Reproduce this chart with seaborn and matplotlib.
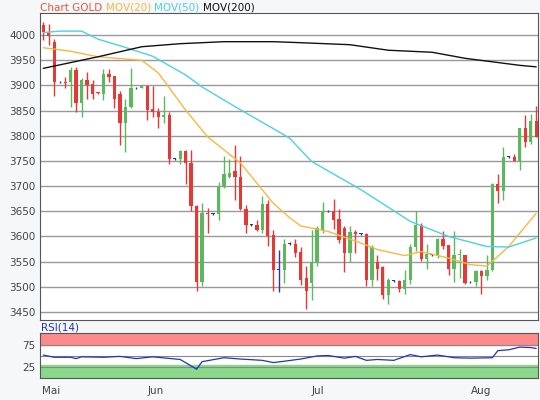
import numpy as np
import pandas as pd
import matplotlib
matplotlib.use("Agg")
import matplotlib.pyplot as plt
import seaborn as sns

# --- Dados ---
# open, close, high, low por pregão
abre = [4020, 4005, 3987, 3906, 3907, 3906, 3931, 3866, 3911, 3903, 3886, 3883, 3923, 3919, 3884,
        3826, 3857, 3894, 3894, 3899, 3854, 3848, 3838, 3841, 3754, 3754, 3769, 3746, 3660, 3509,
        3647, 3645, 3645, 3699, 3718, 3730, 3719, 3654, 3623, 3623, 3612, 3665, 3603, 3534, 3534,
        3586, 3586, 3570, 3517, 3508, 3549, 3613, 3650, 3650, 3635, 3617, 3567, 3608, 3605, 3605,
        3514, 3549, 3539, 3483, 3512, 3512, 3496, 3514, 3580, 3623, 3555, 3564, 3564, 3595, 3584,
        3535, 3564, 3564, 3509, 3509, 3531, 3522, 3533, 3705, 3690, 3758, 3758, 3749, 3815, 3787,
        3830]
fecha = [4007, 3998, 3906, 3906, 3905, 3931, 3866, 3911, 3901, 3883, 3885, 3923, 3917, 3874, 3826,
         3857, 3894, 3894, 3899, 3851, 3848, 3838, 3841, 3754, 3754, 3769, 3746, 3660, 3509, 3646,
         3645, 3645, 3699, 3724, 3726, 3718, 3654, 3623, 3623, 3612, 3665, 3601, 3534, 3534, 3586,
         3586, 3567, 3514, 3491, 3549, 3617, 3650, 3650, 3633, 3593, 3567, 3608, 3604, 3605, 3514,
         3580, 3535, 3483, 3513, 3512, 3496, 3514, 3580, 3623, 3555, 3566, 3564, 3595, 3582, 3535,
         3564, 3565, 3508, 3509, 3531, 3522, 3533, 3705, 3690, 3758, 3758, 3749, 3815, 3787, 3830,
         3798]
maxima = [4027, 4023, 3993, 3908, 3917, 3937, 3937, 3914, 3927, 3911, 3888, 3933, 3933, 3919, 3890,
          3874, 3934, 3896, 3901, 3901, 3898, 3855, 3879, 3848, 3756, 3772, 3772, 3771, 3663, 3667,
          3656, 3647, 3708, 3760, 3753, 3781, 3760, 3663, 3625, 3633, 3680, 3673, 3613, 3574, 3594,
          3588, 3594, 3579, 3541, 3612, 3620, 3668, 3652, 3674, 3655, 3621, 3620, 3612, 3607, 3607,
          3583, 3564, 3542, 3518, 3514, 3514, 3533, 3586, 3650, 3627, 3586, 3566, 3597, 3610, 3584,
          3610, 3575, 3564, 3511, 3533, 3533, 3564, 3707, 3724, 3777, 3760, 3764, 3815, 3841, 3843,
          3859]
minima = [3990, 3980, 3879, 3904, 3894, 3858, 3848, 3838, 3873, 3873, 3884, 3872, 3907, 3855, 3781,
          3767, 3855, 3892, 3894, 3831, 3837, 3815, 3826, 3744, 3752, 3744, 3704, 3650, 3491, 3501,
          3607, 3643, 3633, 3696, 3716, 3672, 3653, 3607, 3621, 3610, 3607, 3582, 3491, 3489, 3508,
          3584, 3560, 3504, 3456, 3473, 3542, 3607, 3648, 3615, 3587, 3529, 3549, 3567, 3603, 3501,
          3501, 3514, 3475, 3465, 3510, 3490, 3485, 3506, 3572, 3552, 3535, 3562, 3557, 3575, 3524,
          3509, 3518, 3506, 3507, 3502, 3486, 3514, 3531, 3666, 3672, 3756, 3749, 3732, 3777, 3784,
          3797]

# médias móveis (índice do pregão, valor)
mm20_idx = [0, 5, 10, 18, 21, 26, 30, 36, 42, 45, 47, 52, 58, 61, 66, 69, 74, 78, 81, 85, 88, 90]
mm20_val = [3975, 3968, 3957, 3950, 3925, 3851, 3798, 3746, 3666, 3637, 3621, 3610, 3587, 3574,
            3562, 3570, 3557, 3544, 3541, 3580, 3620, 3646]
mm50_idx = [0, 3, 7, 10, 14, 20, 26, 29, 35, 43, 45, 49, 58, 67, 74, 81, 85, 90]
mm50_val = [4005, 4008, 4008, 3992, 3979, 3958, 3921, 3897, 3858, 3808, 3795, 3749, 3693, 3630,
            3600, 3580, 3579, 3597]
mm200_idx = [0, 10, 18, 25, 33, 42, 47, 56, 63, 71, 77, 87, 90]
mm200_val = [3934, 3957, 3977, 3983, 3987, 3987, 3985, 3981, 3970, 3966, 3954, 3940, 3937]

rsi_idx = [0, 2, 5, 6, 7, 11, 14, 17, 20, 25, 28, 29, 33, 36, 40, 42, 44, 47, 50, 52, 55, 57,
           59, 61, 64, 67, 69, 72, 75, 78, 82, 83, 85, 86, 87, 89, 90]
rsi_val = [52, 47, 47, 44, 48, 47, 49, 44, 48, 42, 20, 37, 46, 43, 40, 35, 38, 43, 50, 51, 45, 49,
           40, 42, 40, 53, 48, 52, 46, 45, 46, 62, 64, 67, 70, 69, 67]

meses = ["Mai", "Jun", "Jul", "Aug"]
meses_pos = [-0.3, 19.1, 49, 78.1]

# --- Figura ---
sns.set_style("white")
plt.rcParams['font.family'] = ['DejaVu Sans']
fig = plt.figure(figsize=(5.4, 4.0), dpi=100, facecolor='#f6f7f9')
ax = fig.add_axes([0.074, 0.2, 0.922, 0.7675])
ax2 = fig.add_axes([0.074, 0.055, 0.922, 0.1125])

df = pd.DataFrame({"o": abre, "c": fecha, "h": maxima, "l": minima})
df["i"] = np.arange(len(df))
cores = np.where(df["c"] > df["o"], "#5cb85c", np.where(df["c"] < df["o"], "#e53935", "#333399"))

for y in range(3450, 4050, 50):
    ax.axhline(y, color='#999999', lw=1, zorder=0)

ax.vlines(df["i"], df["l"], df["h"], colors=cores, lw=1, zorder=2)
corpo = (df["c"] - df["o"]).abs().clip(lower=1.2)
base = np.minimum(df["o"], df["c"])
ax.bar(df["i"], corpo, bottom=base, width=0.6, color=cores, zorder=3, linewidth=0)

sns.lineplot(x=mm20_idx, y=mm20_val, ax=ax, color='#f5b942', lw=1, zorder=4)
sns.lineplot(x=mm50_idx, y=mm50_val, ax=ax, color='#4dd0e1', lw=1, zorder=4)
sns.lineplot(x=mm200_idx, y=mm200_val, ax=ax, color='#111111', lw=1, zorder=4)

ax.set_xlim(-0.6, 90.3)
ax.set_ylim(3434, 4044)
ax.set_yticks(range(3450, 4050, 50))
ax.tick_params(axis='y', labelsize=7.5, colors='#444444', length=0, pad=3)
ax.set_xticks(meses_pos)
ax.set_xticklabels([])
ax.tick_params(axis='x', length=0)
for s in ax.spines.values():
    s.set_color('#555555')
    s.set_linewidth(0.8)

# legenda no topo
partes = [("Chart GOLD ", '#e05a3a'), ("MOV(20) ", '#f5b942'), ("MOV(50) ", '#4dd0e1'), ("MOV(200)", '#111111')]
fig.canvas.draw()
r = fig.canvas.get_renderer()
xpos = 40
for txt, cor in partes:
    t = fig.text(xpos / 540, 1 - 8 / 400, txt, color=cor, fontsize=7.5, va='center', ha='left')
    bb = t.get_window_extent(renderer=r)
    xpos += bb.width

# RSI
ax2.axhspan(75, 102, color='#ff8a8a', zorder=0)
ax2.axhspan(0, 30, color='#8ad98a', zorder=0)
for y in (25, 50, 75):
    ax2.axhline(y, color='#888888', lw=0.8, zorder=1)
sns.lineplot(x=rsi_idx, y=rsi_val, ax=ax2, color='#2233bb', lw=0.9, zorder=3)
ax2.set_xlim(-0.6, 90.3)
ax2.set_ylim(0, 102)
ax2.set_yticks([25, 75])
ax2.tick_params(axis='y', labelsize=7.5, colors='#444444', length=0, pad=3)
ax2.set_xticks(meses_pos)
ax2.set_xticklabels(meses, ha='left', fontsize=7.5, color='#444444')
ax2.tick_params(axis='x', length=4, color='#555555', pad=2)
for s in ax2.spines.values():
    s.set_color('#555555')
    s.set_linewidth(0.8)
fig.text(41 / 540, 1 - 327 / 400, "RSI(14)", color='#2233bb', fontsize=7.5, va='center', ha='left')

fig.savefig("out.png", dpi=100, facecolor=fig.get_facecolor())
